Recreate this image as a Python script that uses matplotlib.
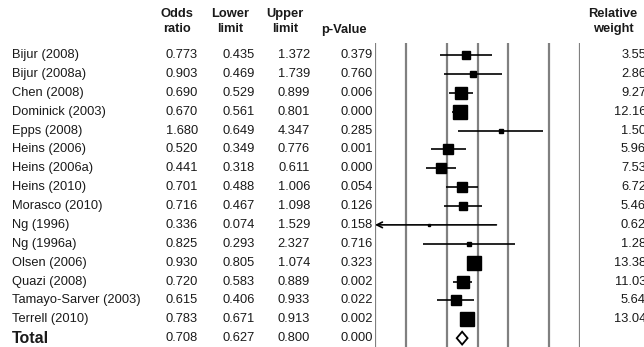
import matplotlib
matplotlib.use("Agg")
import matplotlib.pyplot as plt
from matplotlib.transforms import blended_transform_factory
import numpy as np

studies = ["Bijur (2008)", "Bijur (2008a)", "Chen (2008)", "Dominick (2003)",
           "Epps (2008)", "Heins (2006)", "Heins (2006a)", "Heins (2010)",
           "Morasco (2010)", "Ng (1996)", "Ng (1996a)", "Olsen (2006)",
           "Quazi (2008)", "Tamayo-Sarver (2003)", "Terrell (2010)"]
odds = [0.773, 0.903, 0.690, 0.670, 1.680, 0.520, 0.441, 0.701,
        0.716, 0.336, 0.825, 0.930, 0.720, 0.615, 0.783]
lower = [0.435, 0.469, 0.529, 0.561, 0.649, 0.349, 0.318, 0.488,
         0.467, 0.074, 0.293, 0.805, 0.583, 0.406, 0.671]
upper = [1.372, 1.739, 0.899, 0.801, 4.347, 0.776, 0.611, 1.006,
         1.098, 1.529, 2.327, 1.074, 0.889, 0.933, 0.913]
pvals = [0.379, 0.760, 0.006, 0.000, 0.285, 0.001, 0.000, 0.054,
         0.126, 0.158, 0.716, 0.323, 0.002, 0.022, 0.002]
weights = [3.55, 2.86, 9.27, 12.16, 1.50, 5.96, 7.53, 6.72,
           5.46, 0.62, 1.28, 13.38, 11.03, 5.64, 13.04]
total = {"odds": 0.708, "lower": 0.627, "upper": 0.800, "p": 0.000}
gridlines = [0.1, 0.2, 0.5, 1, 2, 5, 10]

W, H = 644, 347
TXT = "#1a1a1a"
plt.rcParams["font.family"] = ["Liberation Sans", "DejaVu Sans"]

fig = plt.figure(figsize=(W / 100, H / 100), dpi=100)
ax = fig.add_axes([375 / W, 0, 205 / W, (H - 43) / H])
ax.set_xscale("log")
ax.set_xlim(0.1, 10)
ax.set_ylim(15.47, -0.636)
ax.axis("off")

for g in gridlines:
    ax.axvline(g, color="#808080", lw=1.6, zorder=1)

ys = np.arange(len(studies))
xmin = ax.get_xlim()[0]
for y, o, lo, hi, w in zip(ys, odds, lower, upper, weights):
    if lo < xmin:
        ax.annotate("", xy=(xmin, y), xytext=(hi, y),
                    arrowprops=dict(arrowstyle="->", color="black", lw=1.2,
                                    shrinkA=0, shrinkB=0), zorder=3)
    else:
        ax.hlines(y, lo, hi, color="black", lw=1.2, zorder=3)
    ax.plot(o, y, "s", ms=2.74 * np.sqrt(w), color="black", zorder=4)

yt = len(studies)
ax.fill([total["lower"], total["odds"], total["upper"], total["odds"]],
        [yt, yt - 0.34, yt, yt + 0.34],
        facecolor="white", edgecolor="black", lw=1.3, zorder=4)

# text columns: x in figure fraction, y in row units
tr = blended_transform_factory(fig.transFigure, ax.transData)
fs = 9.3
for y, name, o, lo, hi, p, w in zip(ys, studies, odds, lower, upper, pvals, weights):
    ax.text(12 / W, y, name, transform=tr, ha="left", va="center", fontsize=fs, color=TXT)
    ax.text(198 / W, y, f"{o:.3f}", transform=tr, ha="right", va="center", fontsize=fs, color=TXT)
    ax.text(255 / W, y, f"{lo:.3f}", transform=tr, ha="right", va="center", fontsize=fs, color=TXT)
    ax.text(310 / W, y, f"{hi:.3f}", transform=tr, ha="right", va="center", fontsize=fs, color=TXT)
    ax.text(373 / W, y, f"{p:.3f}", transform=tr, ha="right", va="center", fontsize=fs, color=TXT)
    ax.text(646 / W, y, f"{w:.2f}", transform=tr, ha="right", va="center", fontsize=fs, color=TXT)

ax.text(12 / W, yt, "Total", transform=tr, ha="left", va="center", fontsize=11.5,
        fontweight="bold", color=TXT)
for xr, v in [(198, total["odds"]), (255, total["lower"]), (310, total["upper"]), (373, total["p"])]:
    ax.text(xr / W, yt, f"{v:.3f}", transform=tr, ha="right", va="center", fontsize=fs, color=TXT)

# headers
hdr = dict(ha="center", va="center", fontsize=fs, fontweight="bold", color=TXT)
for xc, l1, l2 in [(177, "Odds", "ratio"), (230, "Lower", "limit"),
                   (285, "Upper", "limit"), (613, "Relative", "weight")]:
    fig.text(xc / W, 1 - 14 / H, l1, **hdr)
    fig.text(xc / W, 1 - 29 / H, l2, **hdr)
fig.text(344 / W, 1 - 30 / H, "p-Value", **hdr)

fig.savefig("out.png", dpi=100, facecolor="white")
